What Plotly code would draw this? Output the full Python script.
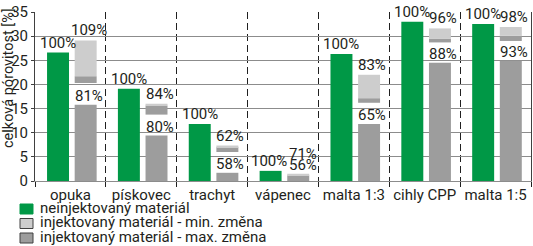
import plotly.graph_objects as go

categories = ["opuka", "pískovec", "trachyt", "vápenec", "malta 1:3", "cihly CPP", "malta 1:5"]
neinjektovany = [26.6, 19.1, 11.8, 2.1, 26.3, 33.0, 32.5]
max_zmena_sloupec = [15.8, 9.4, 1.7, 1.15, 11.8, 24.5, 24.9]
max_zmena_od = [20.3, 13.75, 6.0, 1.15, 16.2, 28.7, 29.0]
max_zmena_do = [21.7, 15.6, 7.0, 1.15, 17.15, 29.5, 30.1]
min_zmena_do = [29.1, 16.0, 7.35, 1.5, 22.0, 31.6, 31.9]
label_neinj = ["100%", "100%", "100%", "100%", "100%", "100%", "100%"]
label_min = ["109%", "84%", "62%", "71%", "83%", "96%", "98%"]
label_max = ["81%", "80%", "58%", "56%", "65%", "88%", "93%"]
y_ticks = [0, 5, 10, 15, 20, 25, 30, 35]
legend_names = ["neinjektovaný materiál",
                "injektovaný materiál - min. změna",
                "injektovaný materiál - max. změna"]

GREEN = "#009846"
GRAY = "#9d9d9d"
LIGHT = "#cdcdcd"
TXT = "#231f20"
FONT = "Roboto"

W, H = 533, 246
ML, MR, MT, MB = 35, 2, 12, 65
PW, PH = W - ML - MR, H - MT - MB

G_OFF, G_W = -0.33, 0.31
S_OFF, S_W = 0.06, 0.31

fig = go.Figure()
fig.add_trace(go.Bar(x=categories, y=neinjektovany, offset=G_OFF, width=G_W,
                     marker=dict(color=GREEN, line=dict(width=0)), showlegend=False))
fig.add_trace(go.Bar(x=categories, y=max_zmena_sloupec, offset=S_OFF, width=S_W,
                     marker=dict(color=GRAY, line=dict(width=0)), showlegend=False))
fig.add_trace(go.Bar(x=categories, base=max_zmena_od,
                     y=[b - a for a, b in zip(max_zmena_od, max_zmena_do)],
                     offset=S_OFF, width=S_W,
                     marker=dict(color=GRAY, line=dict(width=0)), showlegend=False))
fig.add_trace(go.Bar(x=categories, base=max_zmena_do,
                     y=[b - a for a, b in zip(max_zmena_do, min_zmena_do)],
                     offset=S_OFF, width=S_W,
                     marker=dict(color=LIGHT, line=dict(width=0)), showlegend=False))

ann = []
tf = dict(family=FONT, size=15, color=TXT)
for i, cat in enumerate(categories):
    gx = i + G_OFF + G_W / 2
    sx = i + S_OFF + S_W / 2
    no_gap = max_zmena_od[i] <= max_zmena_sloupec[i]
    ann.append(dict(x=gx, y=neinjektovany[i], xref="x", yref="y", text=label_neinj[i],
                    showarrow=False, font=tf, yanchor="middle", yshift=10,
                    xshift=-2 if no_gap else 0))
    ann.append(dict(x=sx, y=min_zmena_do[i], xref="x", yref="y", text=label_min[i],
                    showarrow=False, font=tf, yanchor="middle",
                    yshift=20 if no_gap else 10, xshift=5 if no_gap else 3))
    ann.append(dict(x=sx, y=min_zmena_do[i] if no_gap else max_zmena_sloupec[i],
                    xref="x", yref="y", text=label_max[i],
                    showarrow=False, font=tf, yanchor="middle", yshift=9,
                    xshift=5 if no_gap else 3))

# y axis title
ann.append(dict(x=(8 - ML) / PW, y=(MT + PH - 78) / PH, xref="paper", yref="paper",
                text="celková pórovitost [%]", textangle=-90, showarrow=False,
                font=dict(family=FONT, size=14.5, color=TXT),
                xanchor="center", yanchor="middle"))

# manual legend
shapes = []
leg_rows = [207.5, 222, 236.5]
leg_fill = [GREEN, LIGHT, GRAY]
leg_line = [GREEN, "#404040", "#404040"]
for k, name in enumerate(legend_names):
    yc = leg_rows[k]
    shapes.append(dict(type="rect", xref="paper", yref="paper",
                       x0=(20 - ML) / PW, x1=(33 - ML) / PW,
                       y0=(MT + PH - (yc + 6.5)) / PH, y1=(MT + PH - (yc - 3.5)) / PH,
                       fillcolor=leg_fill[k], line=dict(color=leg_line[k], width=1)))
    ann.append(dict(x=(38 - ML) / PW, y=(MT + PH - yc) / PH, xref="paper", yref="paper",
                    text=name, showarrow=False, xanchor="left", yanchor="middle",
                    font=dict(family=FONT, size=15, color=TXT)))

fig.update_layout(
    width=W, height=H,
    margin=dict(l=ML, r=MR, t=MT, b=MB, pad=0),
    paper_bgcolor="white", plot_bgcolor="white",
    barmode="overlay",
    annotations=ann, shapes=shapes,
    font=dict(family=FONT, size=15, color=TXT),
    xaxis=dict(type="category", range=[-0.5, 6.5], tickson="boundaries",
               ticks="outside", ticklen=5, tickcolor="#202020", tickwidth=1,
               tickangle=0, automargin=False,
               showgrid=True, gridcolor="#202020", griddash="7px,4px", gridwidth=1,
               showline=True, linecolor="#8c8c8c", linewidth=1,
               tickfont=dict(family=FONT, size=15, color=TXT)),
    yaxis=dict(range=[0, 35], tickvals=y_ticks, ticks="outside", ticklen=3,
               tickcolor="#404040", showline=True, linecolor="#404040", linewidth=1,
               mirror=True, showgrid=True, gridcolor="#8c8c8c", gridwidth=1,
               automargin=False,
               zeroline=False, tickfont=dict(family=FONT, size=15, color=TXT)),
)

fig.write_html("out.html")
